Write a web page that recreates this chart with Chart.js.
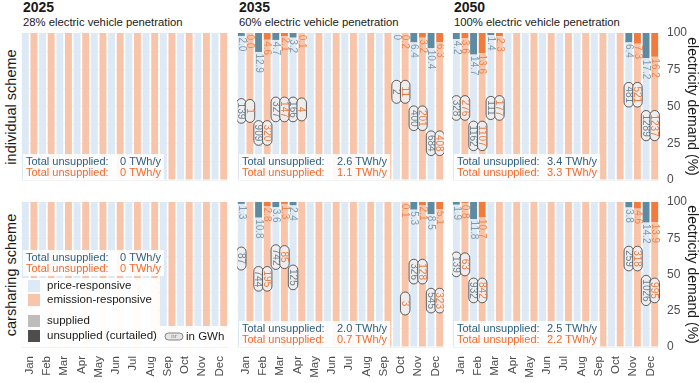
<!DOCTYPE html>
<html>
<head>
<meta charset="utf-8">
<title>Unsupplied EV charging demand</title>
<script src="https://cdn.jsdelivr.net/npm/chart.js@4.4.0/dist/chart.umd.min.js"></script>
<style>
  body { margin: 0; background: #fff; font-family: "Liberation Sans", Arial, sans-serif; }
  #wrap { position: relative; width: 700px; height: 383px; overflow: hidden; background: #fff; }
  .year { position: absolute; top: 0; font-weight: bold; font-size: 14px; line-height: 15px; color: #1a1a1a; }
  .sub { position: absolute; top: 15px; font-size: 11.3px; line-height: 14px; color: #1a1a1a; }
  .rowlab { position: absolute; width: 200px; height: 16px; line-height: 16px; text-align: center;
            font-size: 14.5px; color: #1a1a1a; transform: rotate(-90deg); transform-origin: 50% 50%; }
</style>
</head>
<body>
<div id="wrap"></div>
<script>
// Unsupplied charging demand per month, price- vs emission-responsive charging

const months = ['Jan', 'Feb', 'Mar', 'Apr', 'May', 'Jun', 'Jul', 'Aug', 'Sep', 'Oct', 'Nov', 'Dec'];
const years = ['2025', '2035', '2050'];
const evPenetration = ['28% electric vehicle penetration', '60% electric vehicle penetration', '100% electric vehicle penetration'];
const schemes = ['individual scheme', 'carsharing scheme'];
const yTicks = [0, 25, 50, 75, 100];

// unsupplied share of monthly demand (%), as printed below the dark bars (null = no label)
const indiv2025Price = [null, null, null, null, null, null, null, null, null, null, null, null];
const indiv2025Emis  = [null, null, null, null, null, null, null, null, null, null, null, null];
const indiv2035Price = ['2.0', '12.9', '4.7', '3.2', null, null, null, null, null, '0', '6.4', '10.4'];
const indiv2035Emis  = ['0.0', '4.6', '2.1', '0.1', null, null, null, null, null, '0.2', '3.2', '6.3'];
const indiv2050Price = ['4.2', '14.7', '1.4', null, null, null, null, null, null, null, '6.4', '17.2'];
const indiv2050Emis  = ['3.6', '13.6', '2.3', null, null, null, null, null, null, null, '7.3', '16.2'];
const car2025Price   = [null, null, null, null, null, null, null, null, null, null, null, null];
const car2025Emis    = [null, null, null, null, null, null, null, null, null, null, null, null];
const car2035Price   = ['1.3', '10.8', '3.6', '2.4', null, null, null, null, null, null, '5.3', '8.5'];
const car2035Emis    = [null, '2.8', '1.3', null, null, null, null, null, null, '0.1', '2.1', '5.1'];
const car2050Price   = ['1.9', '11.8', null, null, null, null, null, null, null, null, '3.8', '14.2'];
const car2050Emis    = ['0.8', '10.7', null, null, null, null, null, null, null, null, '4.6', '13.9'];

// unsupplied energy in GWh (pills) and the demand level (%) where each pill sits
const indiv2035PriceGWh = [139, 909, 327, 166, null, null, null, null, null, 2, 400, 684];
const indiv2035EmisGWh  = [1, 320, 147, 4, null, null, null, null, null, 11, 201, 408];
const indiv2035Level    = [47, 32, 48, 48, null, null, null, null, null, 60, 42, 25];
const indiv2050PriceGWh = [328, 1162, 111, null, null, null, null, null, null, null, 481, 1289];
const indiv2050EmisGWh  = [276, 1107, 177, null, null, null, null, null, null, null, 521, 1237];
const indiv2050Level    = [49, 30, 49, null, null, null, null, null, null, null, 58, 37];
const car2035PriceGWh   = [87, 744, 742, 125, null, null, null, null, null, null, 326, 545];
const car2035EmisGWh    = [null, 195, 85, null, null, null, null, null, null, 3, 128, 323];
const car2035Level      = [61, 47, 62, 48, null, null, null, null, null, 30, 52, 32];
const car2050PriceGWh   = [139, 932, null, null, null, null, null, null, null, null, 259, 1026];
const car2050EmisGWh    = [63, 842, null, null, null, null, null, null, null, null, 318, 995];
const car2050Level      = [57, 39, null, null, null, null, null, null, null, null, 61, 39];

// yearly totals (TWh/y)
const totalPriceIndiv = ['0', '2.6', '3.4'];
const totalEmisIndiv  = ['0', '1.1', '3.3'];
const totalPriceCar   = ['0', '2.0', '2.5'];
const totalEmisCar    = ['0', '0.7', '2.2'];

const FONT = '"Liberation Sans", Arial, sans-serif';
const C = {
    priceLight: '#dde9f5', priceDark: '#5d8ba2',
    emisLight: '#f9c5aa', emisDark: '#f27a3c',
    priceLabel: '#7f9aab', emisLabel: '#f2844c',
    pillPrice: '#6b8394', pillEmis: '#ef7a3f',
    totalPrice: '#2d6282', totalEmis: '#f26a2c',
    grid: 'rgba(120,120,120,0.09)', text: '#1a1a1a', tick: '#4d4d4d'
};

// layout
const PLOT_LEFT = [21, 237, 452];
const PLOT_W = 207;
const PLOT_TOP = [33, 202];
const PLOT_H = [147, 145];
const VALUE_OFFSET = [99, 100, 95];

Chart.defaults.font.family = FONT;

const wrap = document.getElementById('wrap');

function addHeaders() {
    years.forEach((y, i) => {
        const d = document.createElement('div');
        d.className = 'year';
        d.style.left = (PLOT_LEFT[i] + 2) + 'px';
        d.textContent = y;
        wrap.appendChild(d);
        const s = document.createElement('div');
        s.className = 'sub';
        s.style.left = (PLOT_LEFT[i] + 2) + 'px';
        s.textContent = evPenetration[i];
        wrap.appendChild(s);
    });
    schemes.forEach((name, r) => {
        const d = document.createElement('div');
        d.className = 'rowlab';
        const cy = PLOT_TOP[r] + PLOT_H[r] / 2;
        d.style.left = (11 - 100) + 'px';
        d.style.top = (cy - 8) + 'px';
        d.textContent = name;
        wrap.appendChild(d);
    });
}

function pill(ctx, x, y, w, h) {
    ctx.beginPath();
    if (ctx.roundRect) {
        ctx.roundRect(x, y, w, h, Math.min(w, h) / 2);
    } else {
        ctx.rect(x, y, w, h);
    }
}

function marksPlugin(p) {
    return {
        id: 'marks',
        afterDraw(chart) {
            const ctx = chart.ctx;
            const area = chart.chartArea;
            const yScale = chart.scales.y;

            // rotated unsupplied (%) labels below the dark bars
            [[1, p.price, C.priceLabel], [3, p.emis, C.emisLabel]].forEach(([di, vals, col]) => {
                const meta = chart.getDatasetMeta(di);
                vals.forEach((v, i) => {
                    if (v === null) return;
                    const bar = meta.data[i];
                    ctx.save();
                    ctx.translate(bar.x, Math.max(bar.base, bar.y) + 1.5);
                    ctx.rotate(Math.PI / 2);
                    ctx.font = '10px ' + FONT;
                    ctx.fillStyle = col;
                    ctx.textAlign = 'left';
                    ctx.textBaseline = 'middle';
                    ctx.fillText(v, 0, 0);
                    ctx.restore();
                });
            });

            // GWh pills
            if (p.level) {
                [[0, p.priceGWh, C.pillPrice], [2, p.emisGWh, C.pillEmis]].forEach(([di, vals, col]) => {
                    const meta = chart.getDatasetMeta(di);
                    vals.forEach((v, i) => {
                        if (v === null) return;
                        const cx = meta.data[i].x;
                        const cy = yScale.getPixelForValue(p.level[i]);
                        ctx.save();
                        ctx.font = '10px ' + FONT;
                        const tw = ctx.measureText(String(v)).width;
                        const h = Math.max(23, tw + 8);
                        const w = 9.5;
                        pill(ctx, cx - w / 2, cy - h / 2, w, h);
                        ctx.fillStyle = 'rgba(238,238,238,0.95)';
                        ctx.fill();
                        ctx.lineWidth = 0.9;
                        ctx.strokeStyle = '#4d4d4d';
                        ctx.stroke();
                        ctx.translate(cx, cy);
                        ctx.rotate(Math.PI / 2);
                        ctx.fillStyle = col;
                        ctx.textAlign = 'center';
                        ctx.textBaseline = 'middle';
                        ctx.fillText(String(v), 0, 0.5);
                        ctx.restore();
                    });
                });
            }

            // totals box
            const boxTop = p.totalsHigh ? area.top + 48 : area.bottom - 26;
            const tx = area.left + 5;
            const vx = area.left + VALUE_OFFSET[p.col];
            ctx.save();
            ctx.font = '11px ' + FONT;
            const vw = Math.max(ctx.measureText(p.totalPrice + ' TWh/y').width,
                                ctx.measureText(p.totalEmis + ' TWh/y').width);
            ctx.fillStyle = 'rgba(255,255,255,0.88)';
            ctx.fillRect(area.left + 2, boxTop, vx + vw + 3 - (area.left + 2), 26);
            ctx.textBaseline = 'middle';
            ctx.textAlign = 'left';
            ctx.fillStyle = C.totalPrice;
            ctx.fillText('Total unsupplied:', tx, boxTop + 8);
            ctx.fillText(p.totalPrice + ' TWh/y', vx, boxTop + 8);
            ctx.fillStyle = C.totalEmis;
            ctx.fillText('Total unsupplied:', tx, boxTop + 18.5);
            ctx.fillText(p.totalEmis + ' TWh/y', vx, boxTop + 18.5);
            ctx.restore();

            // legend in the first carsharing panel
            if (p.legend) {
                ctx.save();
                ctx.fillStyle = 'rgba(255,255,255,0.94)';
                ctx.fillRect(area.left + 1, area.top + 76, 136, area.bottom - area.top - 76);
                ctx.fillRect(area.left + 137, area.bottom - 21, area.right - area.left - 137, 21);
                const items = [
                    [C.priceLight, 'price-responsive', 84],
                    [C.emisLight, 'emission-responsive', 98],
                    ['#bdbdbd', 'supplied', 119],
                    ['#4d4d4d', 'unsupplied (curtailed)', 134]
                ];
                ctx.font = '11.5px ' + FONT;
                ctx.textBaseline = 'middle';
                items.forEach(([col, txt, yy]) => {
                    ctx.fillStyle = col;
                    ctx.fillRect(area.left + 7, area.top + yy - 6, 12, 12);
                    ctx.fillStyle = C.text;
                    ctx.fillText(txt, area.left + 26, area.top + yy);
                });
                const py = area.top + 134.5;
                pill(ctx, area.left + 144, py - 3.5, 18, 7);
                ctx.fillStyle = '#e6e6e6';
                ctx.fill();
                ctx.lineWidth = 0.8;
                ctx.strokeStyle = '#666';
                ctx.stroke();
                ctx.fillStyle = '#777';
                ctx.font = '6px ' + FONT;
                ctx.textAlign = 'center';
                ctx.fillText('nr', area.left + 153, py);
                ctx.textAlign = 'left';
                ctx.font = '11.5px ' + FONT;
                ctx.fillStyle = C.text;
                ctx.fillText('in GWh', area.left + 165, py);
                ctx.restore();
            }
        }
    };
}

function makeChart(p) {
    const isRight = p.col === 2;
    const isBottom = p.row === 1;
    const padTop = 8;
    const padBottom = isBottom ? 0 : 10;
    const w = PLOT_W + (isRight ? 41 : 0);
    const h = padTop + PLOT_H[p.row] + (isBottom ? 36 : padBottom);

    const canvas = document.createElement('canvas');
    canvas.width = w;
    canvas.height = h;
    canvas.style.cssText = 'position:absolute;left:' + PLOT_LEFT[p.col] + 'px;top:' +
        (PLOT_TOP[p.row] - padTop) + 'px;width:' + w + 'px;height:' + h + 'px;';
    wrap.appendChild(canvas);

    const unsup = arr => arr.map(v => v === null ? 0 : Number(v));
    const sup = arr => arr.map(v => 100 - (v === null ? 0 : Number(v)));

    const chart = new Chart(canvas.getContext('2d'), {
        type: 'bar',
        data: {
            labels: months,
            datasets: [
                { label: 'price-responsive supplied', data: sup(p.price), backgroundColor: C.priceLight, stack: 'price' },
                { label: 'price-responsive unsupplied', data: unsup(p.price), backgroundColor: C.priceDark, stack: 'price' },
                { label: 'emission-responsive supplied', data: sup(p.emis), backgroundColor: C.emisLight, stack: 'emis' },
                { label: 'emission-responsive unsupplied', data: unsup(p.emis), backgroundColor: C.emisDark, stack: 'emis' }
            ]
        },
        options: {
            responsive: false,
            animation: false,
            layout: { padding: { top: padTop, bottom: padBottom, left: 0, right: 0 } },
            datasets: { bar: { categoryPercentage: 1, barPercentage: 0.8, borderWidth: 0 } },
            plugins: { legend: { display: false }, tooltip: { enabled: false } },
            scales: {
                x: {
                    stacked: true,
                    display: isBottom,
                    grid: { display: false, drawTicks: false },
                    border: { display: false },
                    ticks: {
                        autoSkip: false, minRotation: 90, maxRotation: 90, padding: 9,
                        color: C.tick, font: { size: 11.5 }
                    },
                    afterFit: s => { s.height = isBottom ? 36 : 0; s.paddingLeft = 0; s.paddingRight = 0; }
                },
                y: {
                    stacked: true,
                    position: 'right',
                    min: 0,
                    max: 100,
                    z: 1,
                    grid: { color: C.grid, drawTicks: false },
                    border: { display: false },
                    ticks: {
                        display: isRight, stepSize: 12.5, padding: 8,
                        color: C.tick, font: { size: 12 },
                        callback: v => yTicks.includes(v) ? v : ''
                    },
                    title: {
                        display: isRight, text: 'electricity demand (%)',
                        color: C.text, font: { size: 14 }, padding: 0
                    },
                    afterFit: s => { s.width = isRight ? 41 : 0; s.paddingTop = 0; s.paddingBottom = 0; }
                }
            }
        },
        plugins: [marksPlugin(p)]
    });

    // pin the plot area to the panel box
    for (let k = 0; k < 3; k++) {
        const a = chart.chartArea;
        const pad = chart.config.options.layout.padding;
        const dTop = padTop - a.top;
        const dBottom = a.bottom - (padTop + PLOT_H[p.row]);
        if (Math.abs(dTop) < 0.5 && Math.abs(dBottom) < 0.5) break;
        pad.top += dTop;
        pad.bottom += dBottom;
        chart.update();
    }
}

addHeaders();

const panels = [
    { row: 0, col: 0, price: indiv2025Price, emis: indiv2025Emis, totalPrice: totalPriceIndiv[0], totalEmis: totalEmisIndiv[0] },
    { row: 0, col: 1, price: indiv2035Price, emis: indiv2035Emis, priceGWh: indiv2035PriceGWh, emisGWh: indiv2035EmisGWh,
      level: indiv2035Level, totalPrice: totalPriceIndiv[1], totalEmis: totalEmisIndiv[1] },
    { row: 0, col: 2, price: indiv2050Price, emis: indiv2050Emis, priceGWh: indiv2050PriceGWh, emisGWh: indiv2050EmisGWh,
      level: indiv2050Level, totalPrice: totalPriceIndiv[2], totalEmis: totalEmisIndiv[2] },
    { row: 1, col: 0, price: car2025Price, emis: car2025Emis, totalPrice: totalPriceCar[0], totalEmis: totalEmisCar[0],
      totalsHigh: true, legend: true },
    { row: 1, col: 1, price: car2035Price, emis: car2035Emis, priceGWh: car2035PriceGWh, emisGWh: car2035EmisGWh,
      level: car2035Level, totalPrice: totalPriceCar[1], totalEmis: totalEmisCar[1] },
    { row: 1, col: 2, price: car2050Price, emis: car2050Emis, priceGWh: car2050PriceGWh, emisGWh: car2050EmisGWh,
      level: car2050Level, totalPrice: totalPriceCar[2], totalEmis: totalEmisCar[2] }
];

panels.forEach(makeChart);
</script>
</body>
</html>
